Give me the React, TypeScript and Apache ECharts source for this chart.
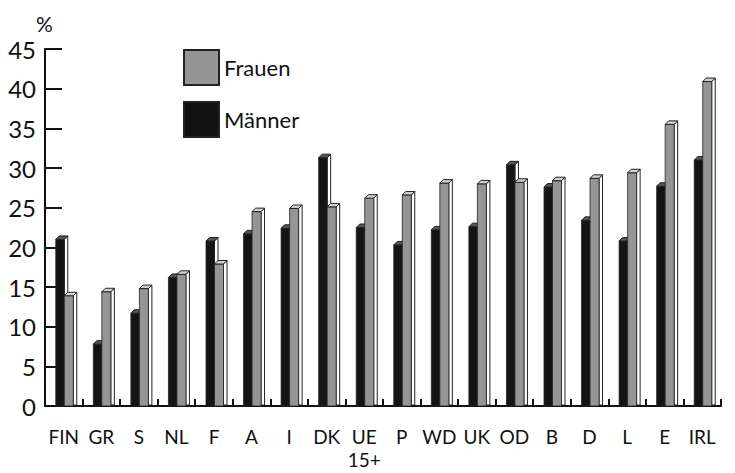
import React, { useEffect, useRef } from "react";
import * as echarts from "echarts";

const categories = ["FIN", "GR", "S", "NL", "F", "A", "I", "DK", "UE\n15+", "P", "WD", "UK", "OD", "B", "D", "L", "E", "IRL"];
const maenner = [21.0, 7.8, 11.7, 16.2, 20.8, 21.7, 22.4, 31.3, 22.5, 20.3, 22.2, 22.6, 30.4, 27.6, 23.4, 20.8, 27.7, 31.0];
const frauen = [13.9, 14.4, 14.8, 16.6, 17.9, 24.5, 24.9, 25.1, 26.2, 26.6, 28.1, 28.0, 28.2, 28.4, 28.7, 29.4, 35.5, 40.9];
const yTicks = { min: 0, max: 45, interval: 5 };

const DEPTH = 3.5;

function make3DBar(offsetLeft: number, width: number, front: string, topFill: string) {
  return (params: any, api: any) => {
    const i = api.value(0);
    const v = api.value(1);
    const base = api.coord([i, 0]);
    const top = api.coord([i, v]);
    const c = base[0];
    const x0 = c + offsetLeft;
    const x1 = x0 + width;
    const yT = top[1];
    const yB = base[1];
    const d = DEPTH;
    return {
      type: "group",
      children: [
        {
          type: "polygon",
          shape: { points: [[x1, yT], [x1 + d, yT - d], [x1 + d, yB - 1], [x1, yB - 1]] },
          style: { fill: "#ffffff", stroke: "#222", lineWidth: 1 },
        },
        {
          type: "rect",
          shape: { x: x0, y: yT, width: width, height: yB - yT },
          style: { fill: front, stroke: "#222", lineWidth: 0.8 },
        },
        {
          type: "polygon",
          shape: { points: [[x0, yT], [x0 + d, yT - d], [x1 + d, yT - d], [x1, yT]] },
          style: { fill: topFill, stroke: "#222", lineWidth: 1 },
        },
      ],
    };
  };
}

export default function App() {
  const ref = useRef<HTMLDivElement>(null);
  useEffect(() => {
    if (!ref.current) return;
    const chart = echarts.init(ref.current, null, { renderer: "svg" });
    const font = "Lato, 'Open Sans', 'Liberation Sans', sans-serif";
    chart.setOption({
      animation: false,
      backgroundColor: "#ffffff",
      grid: { left: 45, right: 14, top: 49, bottom: 67, containLabel: false },
      legend: {
        orient: "vertical",
        left: 183,
        top: 49,
        padding: 0,
        itemWidth: 35,
        itemHeight: 35,
        itemGap: 15,
        icon: "rect",
        data: ["Frauen", "Männer"],
        textStyle: { fontSize: 22, color: "#111", fontFamily: font },
      },
      graphic: [
        {
          type: "text",
          left: 36,
          top: 13,
          style: { text: "%", fontSize: 21, fill: "#111", fontFamily: font },
        },
      ],
      xAxis: {
        type: "category",
        data: categories,
        boundaryGap: true,
        axisLine: { show: true, lineStyle: { color: "#111", width: 2 } },
        axisTick: { show: true, inside: true, length: 7, alignWithLabel: false, lineStyle: { color: "#111", width: 2 } },
        axisLabel: {
          interval: 0,
          margin: 19,
          fontSize: 19,
          lineHeight: 23,
          color: "#111",
          fontFamily: font,
        },
        splitLine: { show: false },
      },
      yAxis: {
        type: "value",
        min: yTicks.min,
        max: yTicks.max,
        interval: yTicks.interval,
        axisLine: { show: true, lineStyle: { color: "#111", width: 2 } },
        axisTick: { show: true, inside: true, length: 17, lineStyle: { color: "#111", width: 2 } },
        axisLabel: { fontSize: 24, color: "#111", margin: 9, fontFamily: font },
        splitLine: { show: false },
      },
      series: [
        {
          name: "Männer",
          type: "custom",
          itemStyle: { color: "#111111", borderColor: "#222", borderWidth: 1 },
          renderItem: make3DBar(-8, 8.5, "#141414", "#555555"),
          encode: { x: 0, y: 1 },
          data: maenner.map((v, i) => [i, v]),
          clip: false,
        },
        {
          name: "Frauen",
          type: "custom",
          itemStyle: { color: "#959595", borderColor: "#222", borderWidth: 1 },
          renderItem: make3DBar(0.5, 9, "#959595", "#d0d0d0"),
          encode: { x: 0, y: 1 },
          data: frauen.map((v, i) => [i, v]),
          clip: false,
        },
      ],
    });
    return () => chart.dispose();
  }, []);
  return <div ref={ref} style={{ width: 735, height: 473, position: "absolute", left: 0, top: 0 }} />;
}
